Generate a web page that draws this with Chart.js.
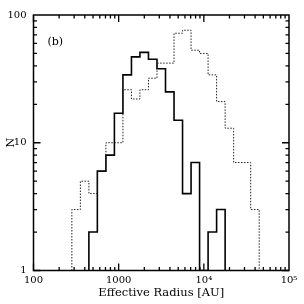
<!DOCTYPE html>
<html>
<head>
<meta charset="utf-8">
<script src="https://cdn.jsdelivr.net/npm/chart.js@4.4.0/dist/chart.umd.min.js"></script>
<style>
  html, body { margin: 0; padding: 0; background: #fff; }
</style>
</head>
<body>
<canvas id="radiusChart" width="304" height="304"></canvas>
<script>
// bin edges in AU (0.1 dex bins)
const binEdges = [282, 355, 447, 562, 708, 891, 1122, 1413, 1778, 2239, 2818, 3548,
                  4467, 5623, 7079, 8913, 11220, 14125, 17783, 22387, 28184, 35481, 44668];
// counts per bin
const solidCounts  = [0, 0, 2, 6, 8, 17, 34, 47, 51, 45, 38, 25, 15, 4, 7, 0, 2, 3, 0, 0, 0, 0];
const dottedCounts = [3, 5, 4, 6, 10, 10, 26, 22, 26, 32, 42, 42, 72, 76, 53, 50, 34, 21, 13, 7, 7, 3];

const xTicks = [100, 1000, 10000, 100000];
const xTickLabels = ['100', '1000', '10\u2074', '10\u2075'];
const yTicks = [1, 10, 100];
const yTickLabels = ['1', '10', '100'];

const SERIF = "'DejaVu Serif', 'Liberation Serif', serif";

// turn counts into a stepped outline (zero bins drop to the axis floor)
function histOutline(counts) {
  let first = counts.findIndex(c => c > 0);
  let last = counts.length - 1;
  while (last > 0 && counts[last] === 0) last--;
  const pts = [{ x: binEdges[first], y: 1 }];
  for (let i = first; i <= last; i++) {
    const v = Math.max(counts[i], 1);
    pts.push({ x: binEdges[i], y: v });
    pts.push({ x: binEdges[i + 1], y: v });
  }
  pts.push({ x: binEdges[last + 1], y: 1 });
  return pts;
}

// frame, inward ticks on all four sides, panel label and y title
const framePlugin = {
  id: 'frame',
  afterDraw(chart) {
    const c = chart.ctx, a = chart.chartArea;
    const xs = chart.scales.x, ys = chart.scales.y;
    c.save();
    c.strokeStyle = '#000';
    c.lineWidth = 1.3;
    c.beginPath();
    // x ticks
    for (let d = 2; d <= 4; d++) {
      for (let k = 1; k <= 9; k++) {
        const v = k * Math.pow(10, d);
        const px = xs.getPixelForValue(v);
        const len = k === 1 ? 7 : 3.5;
        c.moveTo(px, a.bottom); c.lineTo(px, a.bottom - len);
        c.moveTo(px, a.top); c.lineTo(px, a.top + len);
      }
    }
    // y ticks
    for (let d = 0; d <= 1; d++) {
      for (let k = 1; k <= 9; k++) {
        const v = k * Math.pow(10, d);
        const py = ys.getPixelForValue(v);
        const len = k === 1 ? 7 : 3.5;
        c.moveTo(a.left, py); c.lineTo(a.left + len, py);
        c.moveTo(a.right, py); c.lineTo(a.right - len, py);
      }
    }
    c.stroke();
    c.lineWidth = 1.5;
    c.strokeRect(a.left, a.top, a.right - a.left, a.bottom - a.top);

    c.fillStyle = '#000';
    c.font = '11px ' + SERIF;
    c.textAlign = 'left';
    c.textBaseline = 'middle';
    c.fillText('(b)', a.left + 14, a.top + 27);

    // rotated N next to the "10" label
    c.translate(a.left - 22, ys.getPixelForValue(10));
    c.rotate(-Math.PI / 2);
    c.textAlign = 'center';
    c.fillText('N', 0, 0);
    c.restore();
  }
};

const ctx = document.getElementById('radiusChart');
const radiusChart = new Chart(ctx, {
  type: 'scatter',
  data: {
    datasets: [
      {
        label: 'dotted',
        data: histOutline(dottedCounts),
        showLine: true,
        borderColor: '#222',
        borderWidth: 1,
        borderDash: [1.5, 1.5],
        pointRadius: 0,
        tension: 0
      },
      {
        label: 'solid',
        data: histOutline(solidCounts),
        showLine: true,
        borderColor: '#000',
        borderWidth: 1.6,
        pointRadius: 0,
        tension: 0
      }
    ]
  },
  options: {
    responsive: false,
    animation: false,
    devicePixelRatio: 1,
    layout: { padding: { top: 15, right: 15, left: 0, bottom: 0 } },
    plugins: {
      legend: { display: false },
      tooltip: { enabled: false }
    },
    scales: {
      x: {
        type: 'logarithmic',
        min: 100,
        max: 100000,
        grid: { display: false, drawTicks: false },
        border: { display: false },
        afterBuildTicks: s => { s.ticks = xTicks.map(v => ({ value: v })); },
        afterFit: s => { s.height = 33.5; },
        ticks: {
          autoSkip: false,
          maxRotation: 0,
          padding: 4,
          color: '#000',
          font: { family: SERIF, size: 10 },
          callback: v => xTickLabels[xTicks.indexOf(v)]
        },
        title: {
          display: true,
          text: 'Effective Radius [AU]',
          color: '#000',
          font: { family: SERIF, size: 11.5 },
          padding: { top: 0, bottom: 4 }
        }
      },
      y: {
        type: 'logarithmic',
        min: 1,
        max: 100,
        grid: { display: false, drawTicks: false },
        border: { display: false },
        afterBuildTicks: s => { s.ticks = yTicks.map(v => ({ value: v })); },
        afterFit: s => { s.width = 33.5; },
        ticks: {
          autoSkip: false,
          padding: 7,
          color: '#000',
          font: { family: SERIF, size: 10 },
          callback: v => yTickLabels[yTicks.indexOf(v)]
        }
      }
    }
  },
  plugins: [framePlugin]
});
</script>
</body>
</html>
